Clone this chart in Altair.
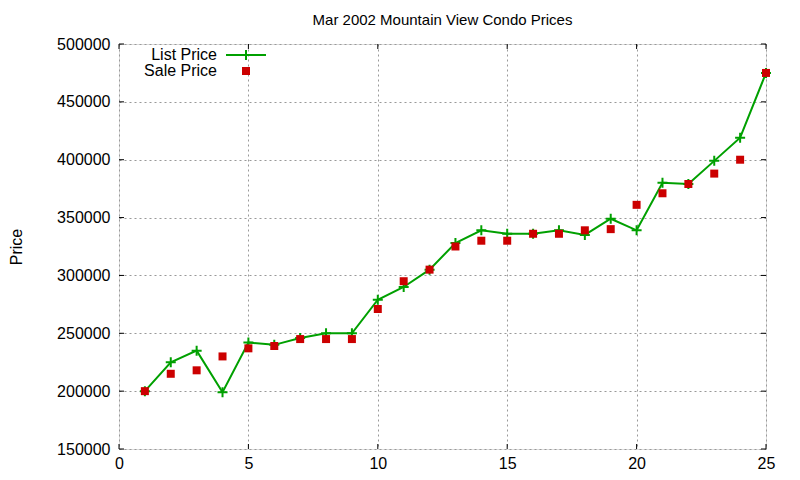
import altair as alt
import pandas as pd

days = list(range(1, 26))
list_price = [200000, 225000, 235000, 199000, 242000, 240000, 246000, 250000, 250000,
              279000, 290000, 305000, 328000, 339000, 336000, 336000, 339000, 335000,
              349000, 339000, 380000, 379000, 399000, 419000, 475000]
sale_price = [200000, 215000, 218000, 230000, 237000, 239000, 245000, 245000, 245000,
              271000, 295000, 305000, 325000, 330000, 330000, 336000, 336000, 339000,
              340000, 361000, 371000, 379000, 388000, 400000, 475000]
x_ticks = [0, 5, 10, 15, 20, 25]
y_ticks = [150000, 200000, 250000, 300000, 350000, 400000, 450000, 500000]

W, H = 647, 405
FONT = "Liberation Sans"
GREEN = "#00a000"
RED = "#cc0000"

df = pd.DataFrame({"day": days, "list": list_price, "sale": sale_price})
xt = pd.DataFrame({"t": x_ticks})
yt = pd.DataFrame({"t": y_ticks})

xs = alt.Scale(domain=[0, 25], nice=False, zero=False)
ys = alt.Scale(domain=[150000, 500000], nice=False, zero=False)

xaxis = alt.Axis(values=x_ticks, ticks=False, domain=False, grid=True, gridDash=[2, 3],
                 gridColor="#999999", labelFontSize=16, labelFont=FONT, labelColor="black",
                 labelPadding=6, title=None, format="d", labelFlush=False)
yaxis = alt.Axis(values=y_ticks, ticks=False, domain=False, grid=True, gridDash=[2, 3],
                 gridColor="#999999", labelFontSize=16, labelFont=FONT, labelColor="black",
                 labelPadding=9, title="Price", titleFontSize=16, titleFont=FONT,
                 titleFontWeight="normal", titlePadding=32, titleColor="black",
                 format="d", labelFlush=False)

line = alt.Chart(df).mark_line(color=GREEN, strokeWidth=2).encode(
    x=alt.X("day:Q", scale=xs, axis=xaxis),
    y=alt.Y("list:Q", scale=ys, axis=yaxis),
)
plus = alt.Chart(df).mark_point(shape="M-1,0L1,0M0,-1L0,1", size=100, color=GREEN,
                                strokeWidth=2, filled=False, opacity=1).encode(
    x=alt.X("day:Q", scale=xs), y=alt.Y("list:Q", scale=ys))
sq = alt.Chart(df).mark_point(shape="square", size=64, color=RED, filled=True, opacity=1).encode(
    x=alt.X("day:Q", scale=xs), y=alt.Y("sale:Q", scale=ys))

tl = 5
xb = alt.Chart(xt).mark_rule(color="black").encode(
    x=alt.X("t:Q", scale=xs), y=alt.value(H), y2=alt.value(H - tl))
xtop = alt.Chart(xt).mark_rule(color="black").encode(
    x=alt.X("t:Q", scale=xs), y=alt.value(0), y2=alt.value(tl))
yl = alt.Chart(yt).mark_rule(color="black").encode(
    y=alt.Y("t:Q", scale=ys), x=alt.value(0), x2=alt.value(tl))
yr = alt.Chart(yt).mark_rule(color="black").encode(
    y=alt.Y("t:Q", scale=ys), x=alt.value(W), x2=alt.value(W - tl))

leg = pd.DataFrame({"label": ["List Price", "Sale Price"], "yy": [11, 27]})
leg_text = alt.Chart(leg).mark_text(align="right", baseline="middle", fontSize=16,
                                    font=FONT, color="black").encode(
    x=alt.value(98), y=alt.Y("yy:Q", scale=None), text="label:N")
leg_line = alt.Chart(leg.iloc[[0]]).mark_rule(color=GREEN, strokeWidth=2).encode(
    x=alt.value(107), x2=alt.value(147), y=alt.Y("yy:Q", scale=None))
leg_plus = alt.Chart(leg.iloc[[0]]).mark_point(shape="M-1,0L1,0M0,-1L0,1", size=100,
                                               color=GREEN, strokeWidth=2, filled=False,
                                               opacity=1).encode(
    x=alt.value(127), y=alt.Y("yy:Q", scale=None))
leg_sq = alt.Chart(leg.iloc[[1]]).mark_point(shape="square", size=64, color=RED,
                                             filled=True, opacity=1).encode(
    x=alt.value(127), y=alt.Y("yy:Q", scale=None))

chart = alt.layer(line, plus, sq, xb, xtop, yl, yr, leg_text, leg_line, leg_plus, leg_sq).properties(
    width=W, height=H,
    title=alt.TitleParams("Mar 2002 Mountain View Condo Prices", fontSize=15, font=FONT,
                          fontWeight="normal", color="black", offset=8),
    padding={"left": 111, "top": 36, "right": 26, "bottom": 24},
    autosize=alt.AutoSizeParams(type="none"),
).configure_view(stroke="black", strokeWidth=1.2).configure(background="white")

chart.save("out.html", embed_options={"renderer": "svg", "actions": False})
